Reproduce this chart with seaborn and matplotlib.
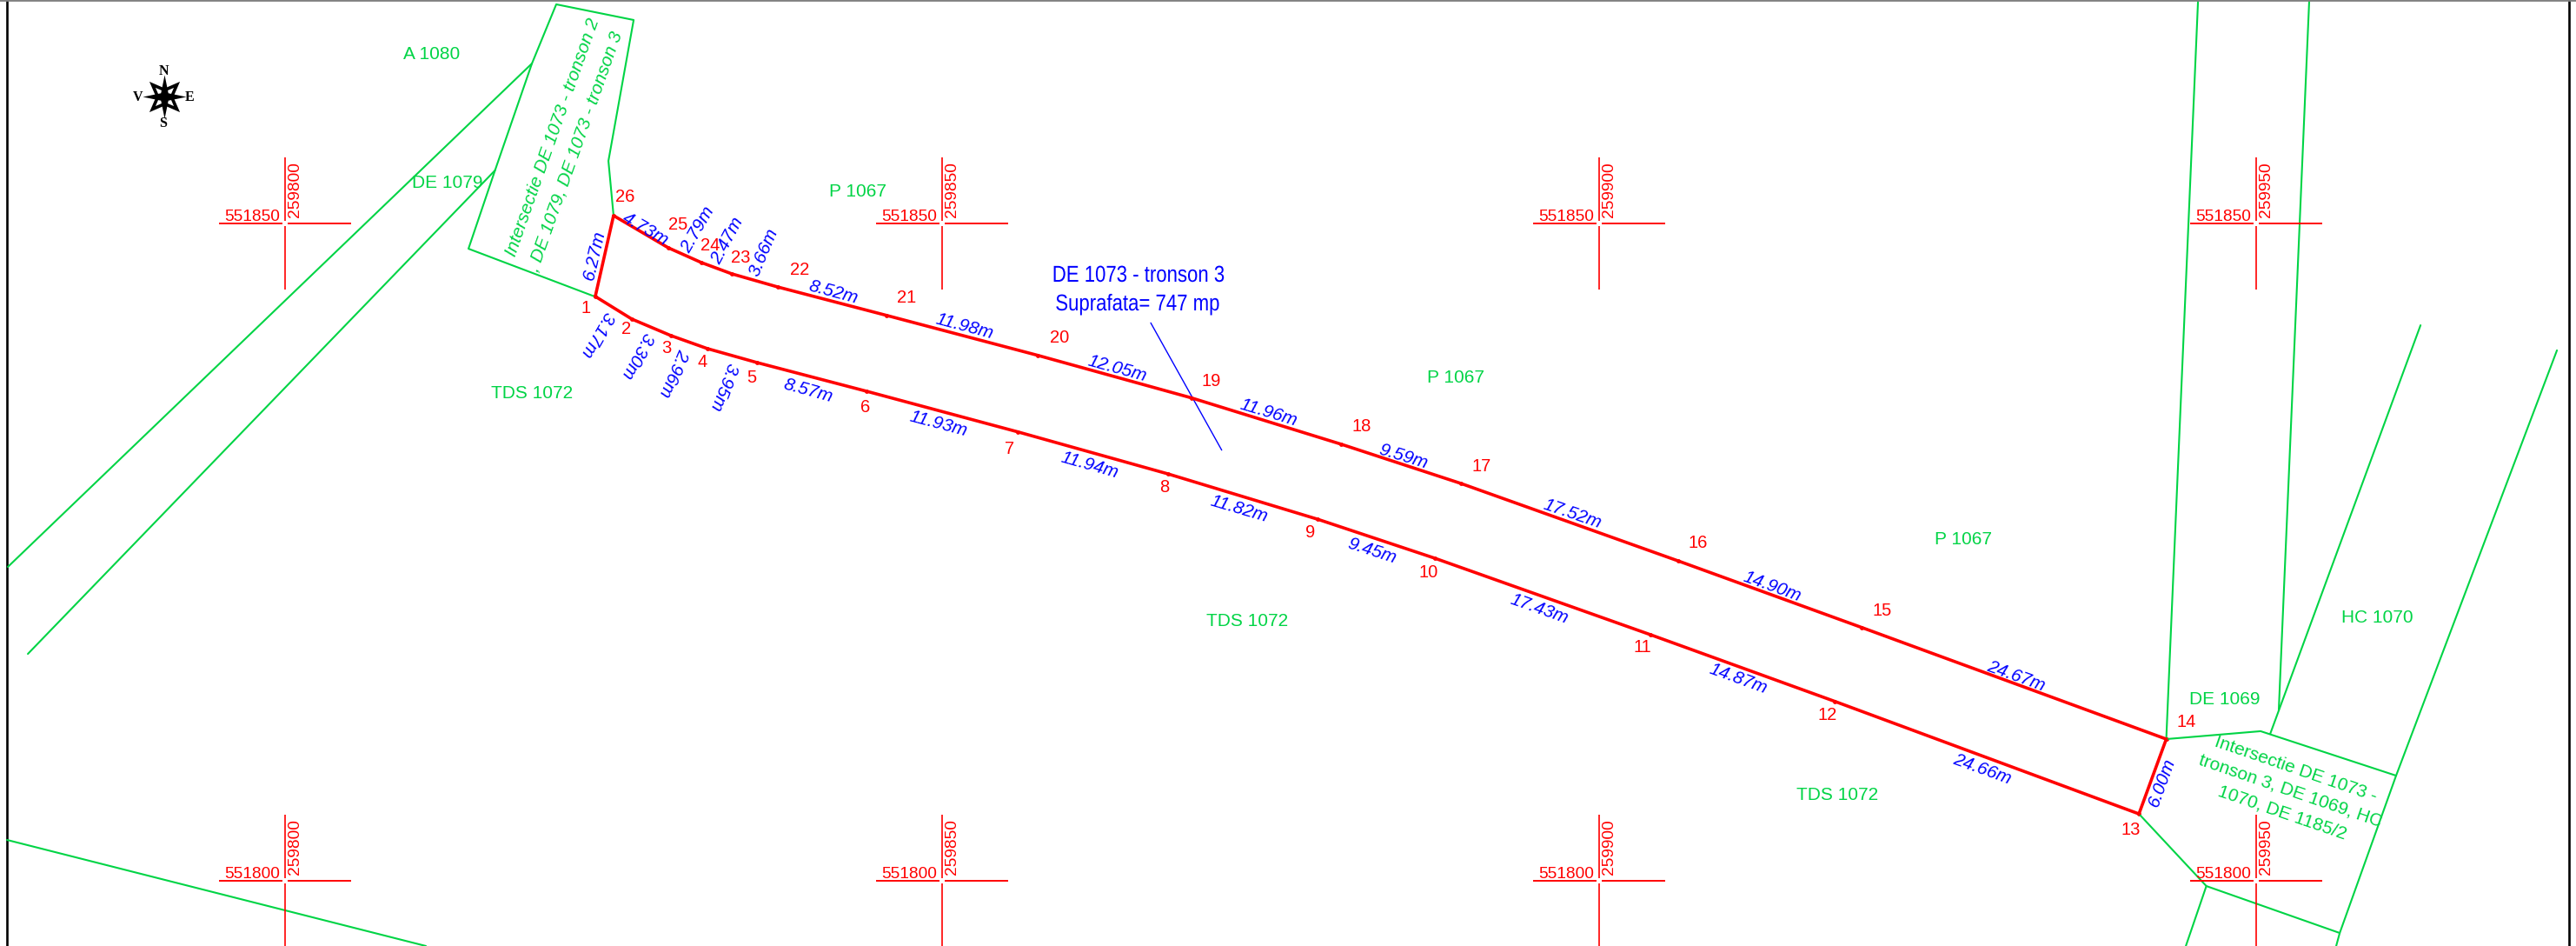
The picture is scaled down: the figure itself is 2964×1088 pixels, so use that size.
import matplotlib
matplotlib.use("Agg")
import matplotlib.pyplot as plt
import seaborn as sns
from matplotlib.patheffects import AbstractPathEffect
from matplotlib.path import Path
from matplotlib.transforms import Affine2D

# survey grid, metres (Stereo 70)
grid_e = [259800, 259850, 259900, 259950]
grid_n = [551850, 551800]

# boundary vertices 1..26, metres offset from 259800 / 551800
vertex_ids = list(range(1, 27))
vertex_e = [23.61, 26.39, 29.37, 32.15, 35.92, 44.25, 55.76, 67.20, 78.56, 87.49, 103.91, 117.93, 141.08,
            143.16, 119.98, 106.00, 89.47, 80.34, 68.99, 57.28, 45.77, 37.50, 34.00, 31.68, 29.17, 25.00]
vertex_n = [44.45, 42.73, 41.47, 40.48, 39.42, 37.24, 34.15, 30.95, 27.51, 24.54, 18.72, 13.65, 5.09,
            10.78, 19.27, 24.34, 30.23, 33.22, 36.73, 39.97, 43.01, 45.17, 46.17, 47.03, 48.15, 50.60]

# neighbouring parcels
west_block_e = [23.55, 13.96, 15.98, 18.79, 20.64, 26.53, 24.61, 25.00]
west_block_n = [44.45, 48.08, 54.04, 62.17, 66.67, 65.48, 54.76, 50.60]
road_a_e = [18.79, -21.09]
road_a_n = [62.17, 23.88]
road_b_e = [15.98, -19.57]
road_b_n = [54.04, 17.26]
south_west_e = [-21.16, 10.72]
south_west_n = [3.11, -4.96]
de1069_a_e = [145.58, 143.16]
de1069_a_n = [67.00, 10.78]
de1069_b_e = [154.04, 151.72]
de1069_b_n = [67.00, 12.96]
east_block_e = [143.16, 150.34, 160.65]
east_block_n = [10.78, 11.38, 8.00]
hc1070_a_e = [162.51, 151.07]
hc1070_a_n = [42.26, 11.18]
hc1070_b_e = [172.89, 160.65, 156.36, 156.09]
hc1070_b_n = [40.35, 8.00, -3.97, -4.96]
south_block_e = [141.08, 146.21, 156.36]
south_block_n = [5.09, -0.40, -3.97]
south_road_e = [146.21, 144.65]
south_road_n = [-0.40, -4.96]
green_lines = [(west_block_e, west_block_n), (road_a_e, road_a_n), (road_b_e, road_b_n),
               (south_west_e, south_west_n), (de1069_a_e, de1069_a_n), (de1069_b_e, de1069_b_n),
               (east_block_e, east_block_n), (hc1070_a_e, hc1070_a_n), (hc1070_b_e, hc1070_b_n),
               (south_block_e, south_block_n), (south_road_e, south_road_n)]
leader_e = [65.88, 71.28]
leader_n = [42.44, 32.76]

# segment lengths
dist_labels = ["3.17m", "3.30m", "2.96m", "3.95m", "8.57m", "11.93m", "11.94m", "11.82m", "9.45m", "17.43m",
               "14.87m", "24.66m", "6.00m", "24.67m", "14.90m", "17.52m", "9.59m", "11.96m", "12.05m",
               "11.98m", "8.52m", "3.66m", "2.47m", "2.79m", "4.73m", "6.27m"]
parcel_labels = ["A 1080", "DE 1079", "TDS 1072", "P 1067", "TDS 1072", "P 1067", "P 1067", "TDS 1072",
                 "DE 1069", "HC 1070"]
area_labels = ["DE 1073 - tronson 3", "Suprafata= 747 mp"]

# text layout, picture pixels
num_x = [674, 721, 767, 808, 865, 996, 1162, 1340, 1508, 1644, 1890, 2103, 2452, 2516, 2166, 1954, 1705, 1567,
         1394, 1219, 1043, 920, 852, 817, 780, 719]
num_y = [353, 376, 399, 414, 433, 466, 515, 558, 611, 657, 743, 821, 953, 829, 700, 623, 535, 489, 437, 387,
         341, 308, 295, 281, 256, 224]
dist_x = [687, 733, 775, 832, 930, 1080, 1254, 1426, 1579, 1771, 2000, 2281, 2488, 2320, 2039, 1809, 1615, 1460,
          1285, 1110, 959, 879, 837, 803, 743, 684]
dist_y = [383, 407, 427, 443, 447, 486, 533, 583, 632, 698, 779, 883, 898, 776, 673, 589, 523, 473, 422, 374,
          334, 288, 275, 262, 262, 292]
dist_rot = [-120, -118, -113, -111, -15.5, -15, -16, -16.5, -18, -19.5, -20, -20, 70, -20, -20, -19, -17, -17,
            -15.5, -15, -15, 67, 62, 60, -30, 77]
parcel_x = [497, 515, 612, 987, 1435, 1675, 2259, 2114, 2560, 2735]
parcel_y = [61, 208, 451, 218, 712, 433, 619, 913, 802, 708]

RED = "#ff0000"
BLUE = "#0000ff"
GREEN = "#00d445"


class Narrow(AbstractPathEffect):
    """Squeezes the glyphs sideways around cx, the area text is a narrow cut."""

    def __init__(self, cx, factor):
        super().__init__()
        self.squeeze = Affine2D().translate(-cx, 0).scale(factor, 1).translate(cx, 0)

    def draw_path(self, renderer, gc, tpath, affine, rgbFace=None):
        renderer.draw_path(gc, tpath, affine + self.squeeze, rgbFace)


sns.set_theme(style="white")
plt.rcParams["font.family"] = ["Liberation Sans", "DejaVu Sans"]

fig, ax = plt.subplots(figsize=(29.64, 10.88), dpi=100)
ax.set_position([0, 0, 1, 1])
for side in ["left", "right", "bottom"]:
    ax.spines[side].set_visible(False)
ax.spines["top"].set_color("#808080")
ax.spines["top"].set_linewidth(2)

# page frame
for e in [-21.16, 173.81]:
    ax.axvline(e, color="black", lw=1.9)

for e, n in green_lines:
    sns.lineplot(x=e, y=n, sort=False, estimator=None, color=GREEN, lw=1.5, ax=ax)

sns.lineplot(x=leader_e, y=leader_n, sort=False, estimator=None, color=BLUE, lw=1.0, ax=ax)

# parcel boundary, closed
ring_e = vertex_e + vertex_e[:1]
ring_n = vertex_n + vertex_n[:1]
sns.lineplot(x=ring_e, y=ring_n, sort=False, estimator=None, color=RED, lw=2.6, ax=ax)
sns.scatterplot(x=vertex_e, y=vertex_n, color=RED, s=12, linewidth=0, ax=ax)

# crosses with a small gap in the middle
arm, gap = 5.0, 0.22
for ge in grid_e:
    for gn in grid_n:
        e0, n0 = ge - 259800, gn - 551800
        ax.hlines([n0, n0], [e0 - arm, e0 + gap], [e0 - gap, e0 + arm], color=RED, lw=1.4)
        ax.vlines([e0, e0], [n0 - arm, n0 + gap], [n0 - gap, n0 + arm], color=RED, lw=1.2)
        ax.annotate(str(gn), (e0, n0), xytext=(-4.5, 2.2), textcoords="offset points", ha="right", va="baseline",
                    color=RED, fontsize=13.8)
        ax.annotate(str(ge), (e0, n0), xytext=(2.5, 5), textcoords="offset points", ha="left", va="bottom",
                    rotation=90, color=RED, fontsize=13.8)

# text placed in picture pixels, 2 px down because the box centre sits above the glyph centre
px = Affine2D().scale(1, -1).translate(0, 1088)


def put(x, y, s, **kw):
    return ax.text(x, y + 2, s, transform=px, ha="center", va="center", rotation_mode="anchor", **kw)


for i, x, y in zip(vertex_ids, num_x, num_y):
    put(x, y, str(i), color=RED, fontsize=14.5)
for s, x, y, r in zip(dist_labels, dist_x, dist_y, dist_rot):
    put(x, y, s, color=BLUE, fontsize=15, style="italic", rotation=r)
for s, x, y in zip(parcel_labels, parcel_x, parcel_y):
    put(x, y, s, color=GREEN, fontsize=15)

put(1310, 315, area_labels[0], color=BLUE, fontsize=19, path_effects=[Narrow(1310, 0.84)])
put(1309, 348, area_labels[1], color=BLUE, fontsize=19, path_effects=[Narrow(1309, 0.84)])

put(636, 156, "Intersectie DE 1073 - tronson 2", color=GREEN, fontsize=15, style="italic", rotation=70.5)
put(662, 172, ", DE 1079, DE 1073 - tronson 3", color=GREEN, fontsize=15, style="italic", rotation=70.5)
put(2642, 883, "Intersectie DE 1073 -", color=GREEN, fontsize=15, rotation=-19)
put(2635, 908, "tronson 3, DE 1069, HC", color=GREEN, fontsize=15, rotation=-19)
put(2626, 933, "1070, DE 1185/2", color=GREEN, fontsize=15, rotation=-19)

# north arrow: outlined diagonal points under the slim main star
slim_star = Path.unit_regular_star(4, innerCircle=0.24)
diag_star = Path.unit_regular_star(4, innerCircle=0.4).transformed(Affine2D().rotate_deg(45))
ax.scatter([-9.2], [59.66], marker=diag_star, s=640, color="black", linewidths=0)
ax.scatter([-9.2], [59.66], marker=diag_star, s=230, color="white", linewidths=0)
ax.scatter([-9.2], [59.66], marker=slim_star, s=1300, color="black", linewidths=0)
for s, x, y in zip(["N", "S", "V", "E"], [188, 188, 159, 218], [80, 140, 110, 110]):
    put(x, y, s, color="black", fontsize=11.5, family="Liberation Serif", weight="bold")

ax.set_xlim(-21.69, 174.34)
ax.set_ylim(-4.96, 67.0)
ax.set_xticks([])
ax.set_yticks([])
ax.set_xlabel("")
ax.set_ylabel("")

fig.savefig("out.png", dpi=100)
plt.close(fig)
